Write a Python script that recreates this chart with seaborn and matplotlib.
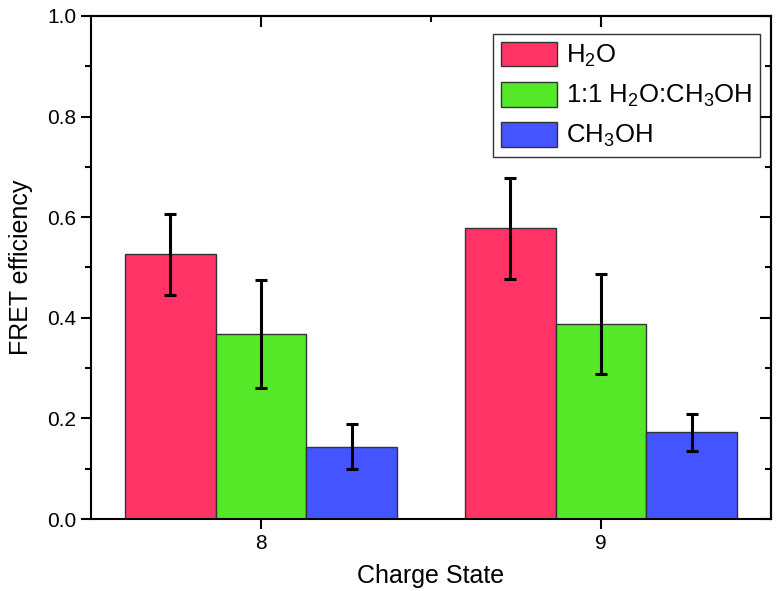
import matplotlib
matplotlib.use("Agg")
import matplotlib.pyplot as plt
import seaborn as sns
import pandas as pd
from matplotlib.ticker import MultipleLocator, FixedLocator

charge_states = ["8", "9"]
solvents = [r"H$_2$O", r"1:1 H$_2$O:CH$_3$OH", r"CH$_3$OH"]
h2o = [0.526, 0.578]
mix = [0.368, 0.388]
meoh = [0.144, 0.172]
h2o_err = [0.081, 0.100]
mix_err = [0.107, 0.100]
meoh_err = [0.045, 0.037]
colors = ["#FF3366", "#55E829", "#4455FF"]

values = [h2o, mix, meoh]
errors = [h2o_err, mix_err, meoh_err]

rows = []
for s, vals in zip(solvents, values):
    for c, v in zip(charge_states, vals):
        rows.append({"Charge State": c, "FRET efficiency": v, "solvent": s})
df = pd.DataFrame(rows)

sns.set_style("ticks")
plt.rcParams["font.family"] = ["Liberation Sans", "DejaVu Sans"]
plt.rcParams["mathtext.fontset"] = "custom"
plt.rcParams["mathtext.rm"] = "Liberation Sans"
plt.rcParams["mathtext.it"] = "Liberation Sans"
plt.rcParams["text.color"] = "black"
plt.rcParams["axes.labelcolor"] = "black"
plt.rcParams["xtick.color"] = "black"
plt.rcParams["ytick.color"] = "black"

fig = plt.figure(figsize=(7.76, 5.91), dpi=100)
ax = fig.add_axes([0.1173, 0.1218, 0.8763, 0.8512])

sns.barplot(data=df, x="Charge State", y="FRET efficiency", hue="solvent",
            palette=colors, saturation=1, errorbar=None, width=0.8,
            edgecolor="#333333", linewidth=1, ax=ax)

for cont, err in zip(ax.containers, errors):
    xs = [p.get_x() + p.get_width() / 2 for p in cont]
    ys = [p.get_height() for p in cont]
    ax.errorbar(xs, ys, yerr=err, fmt="none", ecolor="black",
                elinewidth=2.2, capsize=4, capthick=2.2, zorder=5)

ax.set_xlim(-0.5, 1.5)
ax.set_ylim(0, 1.0)
ax.yaxis.set_major_locator(MultipleLocator(0.2))
ax.yaxis.set_minor_locator(MultipleLocator(0.1))
ax.yaxis.set_major_formatter(matplotlib.ticker.FormatStrFormatter("%.1f"))

for sp in ax.spines.values():
    sp.set_visible(True)
    sp.set_linewidth(1.5)
    sp.set_color("black")

ax.tick_params(axis="both", which="major", direction="out", length=7, width=1.5,
               labelsize=15, right=False, top=False, colors="black")
ax.tick_params(axis="y", which="minor", direction="out", length=4, width=1.5, right=False)
ax.tick_params(axis="x", which="minor", bottom=False, top=False)

secx = ax.secondary_xaxis("top")
secx.xaxis.set_major_locator(FixedLocator([0, 1]))
secx.xaxis.set_minor_locator(FixedLocator([0.5]))
secx.tick_params(which="major", direction="in", length=8, width=1.5, labeltop=False)
secx.tick_params(which="minor", direction="in", length=4, width=1.5)
for sp in secx.spines.values():
    sp.set_linewidth(1.5)

secy = ax.secondary_yaxis("right")
secy.yaxis.set_major_locator(MultipleLocator(0.2))
secy.yaxis.set_minor_locator(MultipleLocator(0.1))
secy.tick_params(which="major", direction="in", length=8, width=1.5, labelright=False)
secy.tick_params(which="minor", direction="in", length=4, width=1.5)
for sp in secy.spines.values():
    sp.set_linewidth(1.5)

ax.set_xlabel("Charge State", fontsize=18, labelpad=8)
ax.set_ylabel("FRET efficiency", fontsize=18, labelpad=10)

leg = ax.legend(loc="upper right", bbox_to_anchor=(0.984, 0.964), borderaxespad=0,
                fontsize=18.5, frameon=True, fancybox=False, edgecolor="black",
                handlelength=2.2, handleheight=1.1, labelspacing=0.5,
                handletextpad=0.35, borderpad=0.3)
leg.get_frame().set_linewidth(1.0)
for h in leg.legend_handles:
    h.set_edgecolor("#333333")

fig.savefig("out.png", dpi=100)
